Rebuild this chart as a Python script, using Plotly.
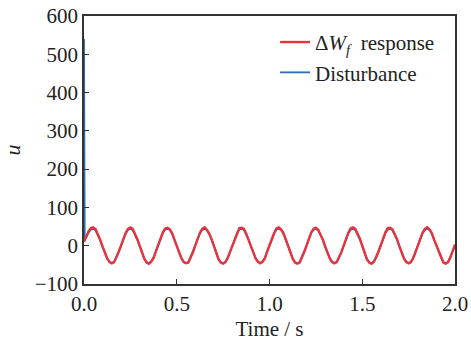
import numpy as np
import plotly.graph_objects as go

# time grid (s)
t = np.round(np.arange(0, 161) * 0.0125, 4).tolist()

red_vals = [
    10, 25, 38, 46, 48, 43, 31, 15, -2, -19, -33, -43, -46, -43, -31, -16,
    1, 20, 34, 44, 48, 44, 32, 17, 0, -18, -34, -44, -47, -42, -32, -15,
    2, 19, 35, 45, 47, 43, 33, 16, -1, -17, -33, -43, -46, -44, -31, -17,
    1, 18, 34, 44, 48, 42, 32, 18, 1, -18, -35, -44, -47, -43, -32, -16,
    0, 19, 35, 46, 47, 44, 31, 16, -1, -19, -33, -42, -46, -42, -33, -15,
    2, 18, 33, 45, 48, 43, 33, 17, 0, -17, -34, -44, -47, -44, -31, -16,
    1, 20, 35, 44, 47, 42, 31, 16, -2, -18, -33, -43, -46, -43, -32, -17,
    0, 19, 34, 45, 48, 44, 32, 18, 0, -19, -35, -44, -47, -42, -31, -15,
    2, 18, 35, 46, 47, 43, 31, 17, -1, -18, -34, -43, -46, -43, -32, -16,
    1, 19, 34, 44, 48, 43, 33, 16, 0, -17, -33, -44, -47, -43, -31, -15,
    3,
]

blue_t = [0.0, 0.004] + t[1:]
blue_vals = [540, 15] + [
    22, 35, 42, 44, 40, 29, 14, -3, -19, -33, -42, -45, -42, -30, -15,
    0, 18, 32, 41, 44, 41, 30, 15, -1, -18, -33, -43, -45, -41, -31, -15,
    1, 18, 33, 42, 44, 41, 31, 15, -2, -17, -32, -42, -45, -43, -30, -16,
    0, 17, 32, 41, 44, 40, 30, 16, 0, -18, -34, -43, -46, -42, -31, -15,
    0, 18, 33, 42, 44, 41, 29, 15, -2, -18, -32, -41, -45, -41, -32, -15,
    1, 17, 31, 42, 44, 41, 31, 16, -1, -17, -33, -43, -46, -43, -30, -15,
    0, 18, 33, 41, 44, 40, 29, 15, -2, -18, -32, -42, -45, -42, -31, -16,
    0, 18, 32, 42, 44, 41, 30, 16, -1, -18, -34, -43, -46, -41, -30, -15,
    1, 17, 33, 42, 44, 41, 29, 16, -2, -18, -33, -42, -45, -42, -31, -15,
    0, 18, 32, 41, 44, 41, 31, 15, -1, -17, -32, -43, -46, -42, -30, -14,
    2,
]

x_ticks = [0.0, 0.5, 1.0, 1.5, 2.0]
x_tick_labels = ["0.0", "0.5", "1.0", "1.5", "2.0"]
y_ticks = [-100, 0, 100, 200, 300, 400, 500, 600]
y_tick_labels = ["\u2212100", "0", "100", "200", "300", "400", "500", "600"]

FONT = "Liberation Serif"

fig = go.Figure()
fig.add_trace(go.Scatter(
    x=blue_t, y=blue_vals, mode="lines",
    name="Disturbance",
    line=dict(color="#2c6cb8", width=1.8),
))
fig.add_trace(go.Scatter(
    x=t, y=red_vals, mode="lines",
    name="\u0394<i>W</i><sub><i>f</i></sub>  response",
    line=dict(color="#e8323c", width=2.4),
))

fig.update_layout(
    width=471, height=345,
    margin=dict(l=84, r=16, t=16, b=61),
    paper_bgcolor="white", plot_bgcolor="white",
    font=dict(family=FONT, size=21, color="#222"),
    showlegend=True,
    legend=dict(
        x=0.515, y=0.978, xanchor="left", yanchor="top",
        traceorder="reversed",
        bgcolor="rgba(0,0,0,0)", font=dict(family=FONT, size=21, color="#222"),
        tracegroupgap=0, itemwidth=30,
    ),
    xaxis=dict(
        range=[0, 2.0], tickvals=x_ticks, ticktext=x_tick_labels,
        showgrid=False, zeroline=False, automargin=False,
        showline=True, linecolor="#333", linewidth=1.5, mirror=True,
        ticks="inside", ticklen=5, tickcolor="#333", tickwidth=1.2,
        tickfont=dict(family=FONT, size=21),
        title=dict(text="Time / s", font=dict(family=FONT, size=21), standoff=6),
    ),
    yaxis=dict(
        range=[-100, 600], tickvals=y_ticks, ticktext=y_tick_labels,
        showgrid=False, zeroline=False, automargin=False,
        showline=True, linecolor="#333", linewidth=1.5, mirror=True,
        ticks="inside", ticklen=5, tickcolor="#333", tickwidth=1.2,
        tickfont=dict(family=FONT, size=21),
        title=dict(text="<i>u</i>", font=dict(family=FONT, size=22), standoff=10),
    ),
)

fig.write_html("out.html")
